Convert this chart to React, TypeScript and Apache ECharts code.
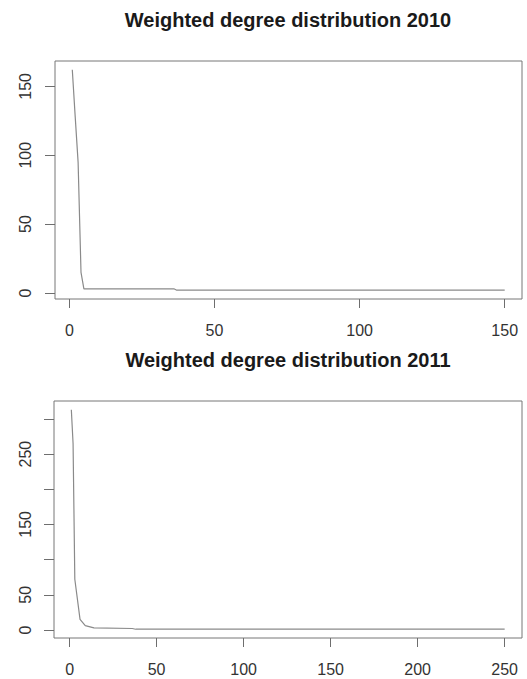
import React, { useEffect, useRef } from "react";
import * as echarts from "echarts";

// 2010 weighted degree distribution (breakpoints)
const degree2010: number[] = [1, 2, 3, 4, 5, 36, 37, 150];
const count2010: number[] = [162, 128, 95, 15, 3, 3, 2, 2];

// 2011 weighted degree distribution
const degree2011: number[] = [1, 2, 3, 6, 9, 14, 36, 38, 250];
const count2011: number[] = [313, 265, 72, 15, 6, 3, 2, 1, 1];

const titles: string[] = [
  "Weighted degree distribution 2010",
  "Weighted degree distribution 2011",
];

const xTicks2010: number[] = [0, 50, 100, 150];
const yTicks2010: number[] = [0, 50, 100, 150];
const yLabels2010: number[] = [0, 50, 100, 150];
const xTicks2011: number[] = [0, 50, 100, 150, 200, 250];
const yTicks2011: number[] = [0, 50, 100, 150, 200, 250, 300];
const yLabels2011: number[] = [0, 50, 150, 250];

const FONT = "'Liberation Sans', Arial, Helvetica, sans-serif";

function rRange(vals: number[]): [number, number] {
  const lo = Math.min(...vals);
  const hi = Math.max(...vals);
  const pad = (hi - lo) * 0.04;
  return [lo - pad, hi + pad];
}

export default function App() {
  const ref = useRef<HTMLDivElement>(null);

  useEffect(() => {
    if (!ref.current) return;
    const chart = echarts.init(ref.current, undefined, { renderer: "svg" });

    const [x1min, x1max] = rRange(degree2010);
    const [y1min, y1max] = rRange(count2010);
    const [x2min, x2max] = rRange(degree2011);
    const [y2min, y2max] = rRange(count2011);

    const tickColor = "#6e6e6e";
    const labelStyle = {
      color: "#333",
      fontFamily: FONT,
      fontSize: 16,
    };

    const mkX = (gi: number, min: number, max: number, ticks: number[], margin: number) => ({
      type: "value",
      gridIndex: gi,
      min,
      max,
      axisLine: { show: false, onZero: false },
      splitLine: { show: false },
      axisTick: {
        show: true,
        inside: false,
        length: 9,
        customValues: ticks,
        lineStyle: { color: tickColor, width: 1 },
      },
      axisLabel: {
        show: true,
        margin,
        customValues: ticks,
        ...labelStyle,
      },
    });

    const mkY = (
      gi: number,
      min: number,
      max: number,
      ticks: number[],
      labels: number[],
      margin: number
    ) => ({
      type: "value",
      gridIndex: gi,
      min,
      max,
      axisLine: { show: false, onZero: false },
      splitLine: { show: false },
      axisTick: {
        show: true,
        inside: false,
        length: 10,
        customValues: ticks,
        lineStyle: { color: tickColor, width: 1 },
      },
      axisLabel: {
        show: true,
        rotate: 90,
        margin,
        customValues: labels,
        ...labelStyle,
      },
    });

    const option: any = {
      animation: false,
      backgroundColor: "#ffffff",
      title: titles.map((t, i) => ({
        text: t,
        left: 288,
        top: i === 0 ? 10 : 350,
        textAlign: "center",
        padding: 0,
        textStyle: {
          fontFamily: FONT,
          fontSize: 20,
          fontWeight: "bold",
          color: "#1a1a1a",
        },
      })),
      grid: [
        {
          left: 55,
          right: 5,
          top: 61,
          height: 238,
          show: true,
          borderColor: "#777",
          borderWidth: 1,
          backgroundColor: "transparent",
        },
        {
          left: 54,
          right: 5,
          top: 401,
          height: 237,
          show: true,
          borderColor: "#777",
          borderWidth: 1,
          backgroundColor: "transparent",
        },
      ],
      xAxis: [
        mkX(0, x1min, x1max, xTicks2010, 23),
        mkX(1, x2min, x2max, xTicks2011, 23),
      ],
      yAxis: [
        mkY(0, y1min, y1max, yTicks2010, yLabels2010, 22),
        mkY(1, y2min, y2max, yTicks2011, yLabels2011, 21),
      ],
      series: [
        {
          type: "line",
          xAxisIndex: 0,
          yAxisIndex: 0,
          data: degree2010.map((d, i) => [d, count2010[i]]),
          showSymbol: false,
          symbol: "none",
          lineStyle: { color: "#8a8a8a", width: 1.2 },
        },
        {
          type: "line",
          xAxisIndex: 1,
          yAxisIndex: 1,
          data: degree2011.map((d, i) => [d, count2011[i]]),
          showSymbol: false,
          symbol: "none",
          lineStyle: { color: "#8a8a8a", width: 1.2 },
        },
      ],
    };

    chart.setOption(option);
    return () => chart.dispose();
  }, []);

  return (
    <div
      ref={ref}
      style={{
        position: "fixed",
        left: 0,
        top: 0,
        width: 527,
        height: 679,
        background: "#fff",
      }}
    />
  );
}
